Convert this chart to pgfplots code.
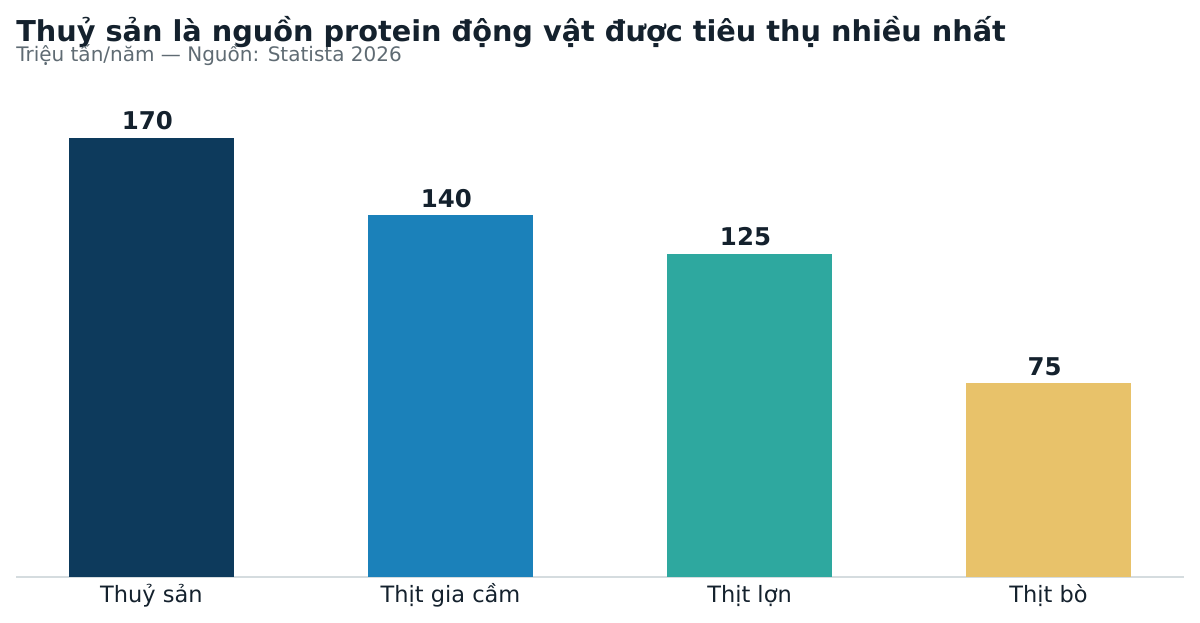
\documentclass[border=0pt]{standalone}
\usepackage{pgfplots}
\pgfplotsset{compat=1.18}
\usepackage{fontspec}
\setmainfont{DejaVu Sans}
\definecolor{cA}{HTML}{0D3A5C}
\definecolor{cB}{HTML}{1B81BA}
\definecolor{cC}{HTML}{2EA89F}
\definecolor{cD}{HTML}{E8C26A}
\definecolor{txt}{HTML}{14212D}
\definecolor{sub}{HTML}{5F6B73}
\definecolor{base}{HTML}{D5DCDF}
\begin{document}
\begin{tikzpicture}[x=1bp,y=1bp]
\path[use as bounding box] (0,0) rectangle (864,-448.56);
\node[anchor=base west,inner sep=0pt,text=txt,font=\fontsize{20.7bp}{23bp}\selectfont\bfseries] at (11.52,-29.7) {Thuỷ sản là nguồn protein động vật được tiêu thụ nhiều nhất};
\node[anchor=base west,inner sep=0pt,text=sub,font=\fontsize{14.4bp}{17bp}\selectfont] at (11.52,-44.3) {Triệu tấn/năm — Nguồn: Statista 2026};
\begin{axis}[
  at={(11.52bp,-415.44bp)}, anchor=south west,
  scale only axis, width=840.96bp, height=363.46bp,
  xmin=-0.453, xmax=3.453, ymin=0, ymax=195.5,
  axis x line*=bottom, axis y line=none,
  x axis line style={color=base, line width=1.4bp, -},
  xtick={0,1,2,3}, xticklabels={Thuỷ sản,Thịt gia cầm,Thịt lợn,Thịt bò},
  major tick length=0pt,
  xticklabel style={text=txt, font=\fontsize{16.2bp}{19bp}\selectfont, anchor=base, yshift=-18bp},
  typeset ticklabels with strut,
  /pgf/number format/assume math mode=true,
  ybar, bar width=0.55, bar shift=0pt,
  nodes near coords,
  every node near coord/.append style={text=txt, font=\fontsize{17.6bp}{20bp}\selectfont\bfseries, anchor=base, yshift=6bp, xshift=-2.9bp},
  clip=false,
]
\addplot[draw=none, fill=cA] coordinates {(0,170)};
\addplot[draw=none, fill=cB] coordinates {(1,140)};
\addplot[draw=none, fill=cC] coordinates {(2,125)};
\addplot[draw=none, fill=cD] coordinates {(3,75)};
\end{axis}
\end{tikzpicture}
\end{document}
